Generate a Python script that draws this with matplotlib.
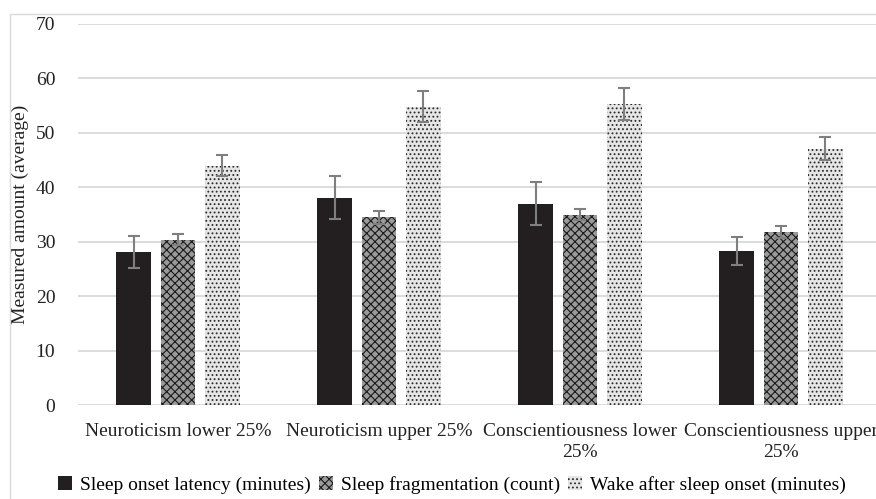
import matplotlib.pyplot as plt
import matplotlib.patches as mpatches
import numpy as np

plt.rcParams['font.family'] = ['Liberation Serif', 'DejaVu Serif']
plt.rcParams['hatch.linewidth'] = 0.8

categories = ["Neuroticism lower 25%", "Neuroticism upper 25%",
              "Conscientiousness lower\n25%", "Conscientiousness upper\n25%"]
series = ["Sleep onset latency (minutes)", "Sleep fragmentation (count)",
          "Wake after sleep onset (minutes)"]

onset = [28.1, 38.1, 37.0, 28.3]
onset_err = [3.0, 4.0, 4.0, 2.6]
frag = [30.4, 34.5, 35.0, 31.7]
frag_err = [1.0, 1.2, 1.1, 1.1]
waso = [44.0, 54.8, 55.3, 47.1]
waso_err = [1.9, 2.8, 2.9, 2.1]

values = [onset, frag, waso]
errors = [onset_err, frag_err, waso_err]

W, H = 876, 499
fig = plt.figure(figsize=(W / 100, H / 100), dpi=100)

# outer light border like the exported chart box
fig.patches.append(mpatches.Rectangle((10 / W, -0.02), 1.0, 1 - 14 / H + 0.02,
                                      transform=fig.transFigure, fill=False,
                                      edgecolor='#d9d9d9', linewidth=1.0))

ax = fig.add_axes([77.5 / W, 94 / H, 804 / W, 381 / H])

x = np.arange(len(categories))
width = 0.174
offsets = [-0.219, 0, 0.219]
styles = [
    dict(color='#231f20'),
    dict(facecolor='#9a9a9a', edgecolor='#1a1a1a', hatch='xxxx', linewidth=0),
    dict(facecolor='#e6e6e6', edgecolor='#2a2a2a', hatch='....', linewidth=0),
]

handles = []
for vals, errs, off, st, name in zip(values, errors, offsets, styles, series):
    b = ax.bar(x + off, vals, width, label=name, zorder=2, **st)
    ax.errorbar(x + off, vals, yerr=errs, fmt='none', ecolor='#7f7f7f',
                elinewidth=1.5, capsize=4, capthick=1.5, zorder=3)
    handles.append(b)

ax.set_xlim(-0.5, len(categories) - 0.5)
ax.set_ylim(0, 70)
ax.set_yticks(range(0, 71, 10))
ax.set_xticks(x)
ax.set_xticklabels(categories, fontsize=14, linespacing=1.3)
ax.tick_params(axis='both', length=0, labelsize=14, colors='#222222')
ax.tick_params(axis='y', pad=16)
ax.tick_params(axis='x', pad=13)
ax.yaxis.grid(True, color='#d9d9d9', linewidth=1.3, zorder=0)
ax.set_axisbelow(True)
for s in ax.spines.values():
    s.set_visible(False)
ax.set_ylabel("Measured amount (average)", fontsize=14, color='#222222', labelpad=5)

fig.legend(handles=handles, labels=series, loc='center', ncol=3,
           bbox_to_anchor=(452 / W, 1 - 485 / H), frameon=False, fontsize=14,
           handlelength=0.7, handleheight=0.7, handletextpad=0.4,
           columnspacing=0.45)

fig.savefig("out.png", dpi=100)
